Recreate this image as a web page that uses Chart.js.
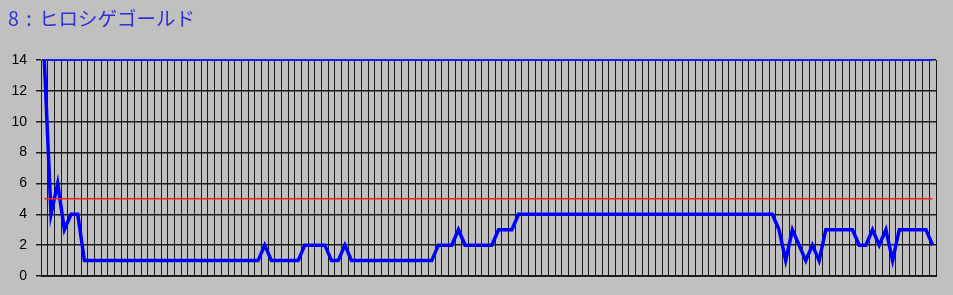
<!DOCTYPE html>
<html>
<head>
<meta charset="utf-8">
<script src="https://cdn.jsdelivr.net/npm/chart.js@4.4.1/dist/chart.umd.min.js"></script>
<style>
	html, body { margin: 0; padding: 0; background: #c0c0c0; }
	#wrap { position: relative; width: 953px; height: 295px; }
	#title {
		position: absolute; left: 8px; top: 8px;
		font: 19.5px "Noto Sans CJK JP", sans-serif; line-height: 1;
		word-spacing: 3px; color: #3030d4; white-space: nowrap;
	}
</style>
</head>
<body>
<div id="wrap">
	<div id="title">8 : ヒロシゲゴールド</div>
	<canvas id="myChart" width="953" height="295"></canvas>
</div>
<script>
// values, one per race
const ranks = [
	14, 4, 6, 3, 4, 4, 1, 1, 1, 1,
	1, 1, 1, 1, 1, 1, 1, 1, 1, 1,
	1, 1, 1, 1, 1, 1, 1, 1, 1, 1,
	1, 1, 1, 2, 1, 1, 1, 1, 1, 2,
	2, 2, 2, 1, 1, 2, 1, 1, 1, 1,
	1, 1, 1, 1, 1, 1, 1, 1, 1, 2,
	2, 2, 3, 2, 2, 2, 2, 2, 3, 3,
	3, 4, 4, 4, 4, 4, 4, 4, 4, 4,
	4, 4, 4, 4, 4, 4, 4, 4, 4, 4,
	4, 4, 4, 4, 4, 4, 4, 4, 4, 4,
	4, 4, 4, 4, 4, 4, 4, 4, 4, 4,
	3, 1, 3, 2, 1, 2, 1, 3, 3, 3,
	3, 3, 2, 2, 3, 2, 3, 1, 3, 3,
	3, 3, 3, 2
];
const labels = ranks.map((v, i) => String(i + 1));
const thresholdLine = 5;
const maxLine = 14;
const yTicks = [0, 2, 4, 6, 8, 10, 12, 14];

function constLine(value, color, width) {
	return {
		data: labels.map(() => value),
		borderColor: color,
		borderWidth: width,
		pointRadius: 0,
		tension: 0,
		clip: false,
	};
}

var ctx = document.getElementById("myChart").getContext("2d");
var chart = new Chart(ctx, {
	type: "line",
	data: {
		labels: labels,
		datasets: [
			constLine(maxLine, "#1a1aff", 2),
			constLine(thresholdLine, "#ff2020", 1.5),
			{
				data: ranks,
				borderColor: "#0000ff",
				borderWidth: 3.5,
				pointRadius: 0,
				tension: 0,
				clip: false,
			},
		],
	},
	options: {
		responsive: false,
		animation: false,
		layout: { padding: { top: 60, right: 17, bottom: 19, left: 0 } },
		plugins: { legend: { display: false }, tooltip: { enabled: false } },
		scales: {
			x: {
				type: "category",
				offset: true,
				grid: { offset: true, color: "#1a1a1a", lineWidth: 1, drawTicks: false },
				border: { color: "#1a1a1a" },
				ticks: { display: false },
				afterFit: function (scale) { scale.height = 0; },
			},
			y: {
				min: 0,
				max: 14,
				afterBuildTicks: function (scale) {
					scale.ticks = yTicks.map((v) => ({ value: v }));
				},
				grid: { color: "#1a1a1a", lineWidth: 1.5, tickLength: 5 },
				border: { color: "#1a1a1a" },
				ticks: {
					color: "#000",
					padding: 9,
					font: { family: "Liberation Sans", size: 14 },
				},
				afterFit: function (scale) { scale.width = 41; },
			},
		},
	},
});
</script>
</body>
</html>
